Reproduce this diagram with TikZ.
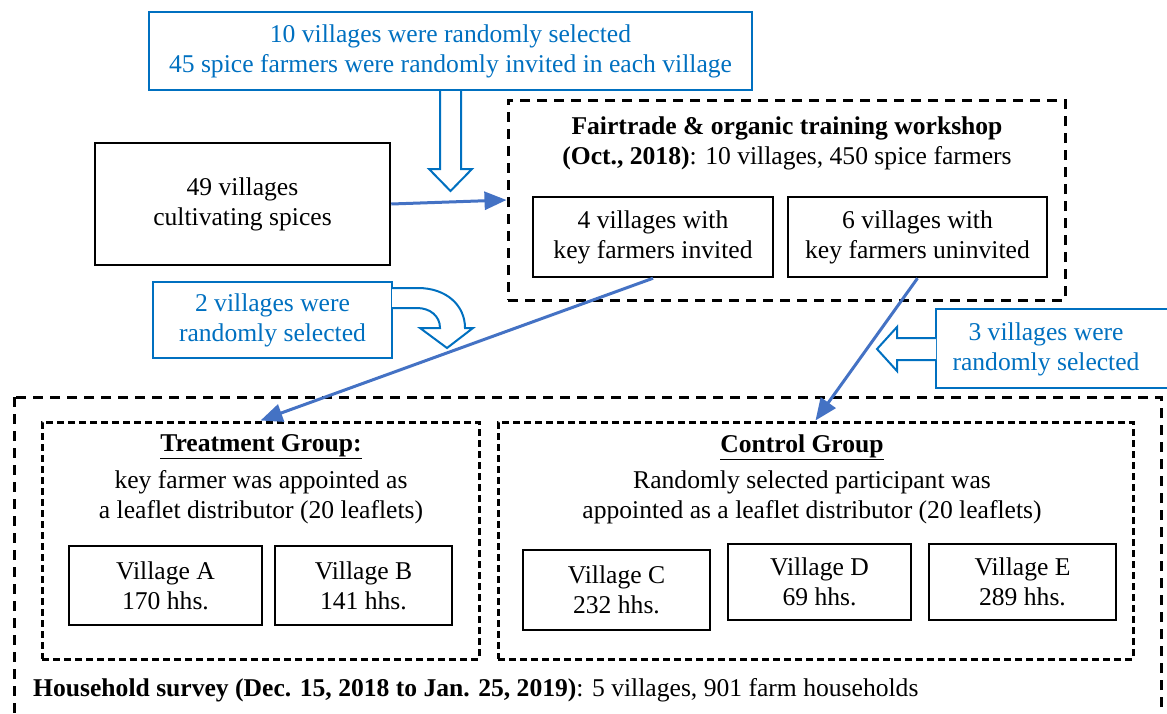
\documentclass[tikz,border=0pt]{standalone}
\usepackage{fontspec}
\setmainfont{Liberation Serif}
\usetikzlibrary{arrows.meta,calc}
\definecolor{tblue}{RGB}{0,112,192}
\definecolor{cblue}{RGB}{68,114,196}
\begin{document}
\begin{tikzpicture}[x=1pt,y=-1pt,
  every node/.style={font=\fontsize{25.6}{30}\selectfont, inner sep=0pt, align=center},
  solidbox/.style={draw=black, line width=2.5pt, rectangle},
  bluebox/.style={draw=tblue, line width=2pt, rectangle},
  bluetext/.style={text=tblue},
  dashbox/.style={draw=black, line width=3pt, dash pattern=on 10pt off 7pt, rectangle},
  fdashbox/.style={draw=black, line width=3pt, dash pattern=on 7pt off 4pt, rectangle},
  conn/.style={draw=cblue, line width=3pt, -{Triangle[length=22pt,width=18pt]}},
  hollow/.style={draw=tblue, line width=2pt, fill=white, line join=miter},
]
\useasboundingbox (0,0) rectangle (1167,713);

% outer survey box
\draw[dashbox] (14,397) rectangle (1161,735);

% top blue box
\node[bluebox, bluetext, minimum width=603pt, minimum height=78pt] (top) at (450.5,51)
  {10 villages were randomly selected\\45 spice farmers were randomly invited in each village};

% 49 villages
\node[solidbox, minimum width=295pt, minimum height=122pt] (spice) at (242.5,204)
  {49 villages\\cultivating spices};

% workshop
\node[dashbox, minimum width=557pt, minimum height=200pt] (work) at (786.5,200) {};
\node (worktitle) at (787,128) {\textbf{Fairtrade \& organic training workshop}};
\node (worksub) at (787,158) {\textbf{(Oct., 2018)}: 10 villages, 450 spice farmers};
\node[solidbox, minimum width=240pt, minimum height=80pt] (inv) at (653,237)
  {4 villages with\\key farmers invited};
\node[solidbox, minimum width=259pt, minimum height=80pt] (uninv) at (917.5,237)
  {6 villages with\\key farmers uninvited};

% 2 villages blue box
\node[bluebox, bluetext, minimum width=239pt, minimum height=76pt] (two) at (272.5,320)
  {2 villages were\\randomly selected};

% 3 villages blue box (cut at right edge)
\draw[bluebox] (936,309) rectangle (1175,388);
\node[bluetext] (three) at (1046,349) {3 villages were\\randomly selected};

% treatment group
\node[fdashbox, minimum width=437pt, minimum height=237pt] (treat) at (260.5,540.5) {};
\node (treattitle) at (261,447) {\underline{\textbf{Treatment Group:}}};
\node (treattext) at (261,497) {key farmer was appointed as\\a leaflet distributor (20 leaflets)};
\node[solidbox, minimum width=193pt, minimum height=79pt] (va) at (165.5,585.5) {Village A\\170 hhs.};
\node[solidbox, minimum width=177pt, minimum height=79pt] (vb) at (363.5,585.5) {Village B\\141 hhs.};

% control group
\node[fdashbox, minimum width=635pt, minimum height=237pt] (ctrl) at (815.5,540.5) {};
\node (ctrltitle) at (802,447) {\underline{\textbf{Control Group}}};
\node (ctrltext) at (812,497) {Randomly selected participant was\\appointed as a leaflet distributor (20 leaflets)};
\node[solidbox, minimum width=187pt, minimum height=80pt] (vc) at (616.5,590) {Village C\\232 hhs.};
\node[solidbox, minimum width=183pt, minimum height=76pt] (vd) at (819.5,582) {Village D\\69 hhs.};
\node[solidbox, minimum width=187pt, minimum height=76pt] (ve) at (1022.5,582) {Village E\\289 hhs.};

% household survey
\node[anchor=west] (survey) at (33,690)
  {\textbf{Household survey (Dec. 15, 2018 to Jan. 25, 2019)}: 5 villages, 901 farm households};

% hollow arrows
\draw[hollow] ($(top.south)+(-10.5,0)$) -- ++(0,78) -- ++(-11,0) -- ++(21.5,22) -- ++(21.5,-22) -- ++(-11,0) -- ++(0,-78);
\draw[hollow] (392,288) -- (418,288) .. controls (446,288) and (465,305) .. (465,328)
  -- (473,328) -- (447,348) -- (420,328) -- (440,328)
  .. controls (440,316) and (430,308) .. (417,308) -- (392,308);
\draw[hollow] (936,338) -- (897,338) -- (897,327) -- (877,349) -- (897,371) -- (897,360) -- (936,360);

% connectors
\draw[conn] (spice.east) -- (work.west);
\draw[conn] (inv.south) -- (treat.north);
\draw[conn] (uninv.south) -- (ctrl.north);
\end{tikzpicture}
\end{document}
